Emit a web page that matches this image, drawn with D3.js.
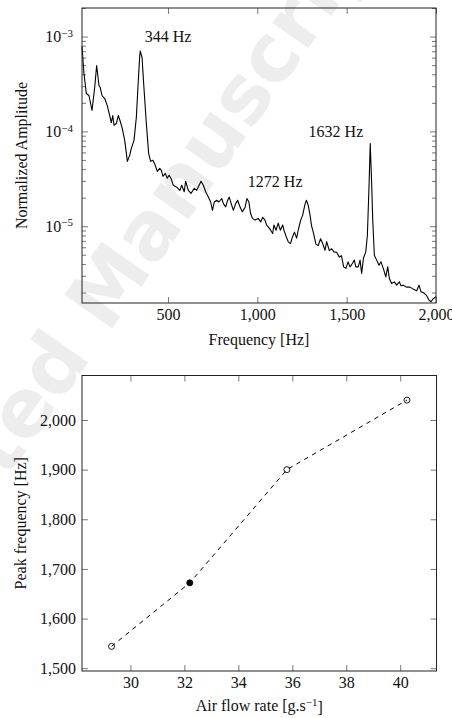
<!DOCTYPE html>
<html lang="en">
<head>
<meta charset="utf-8">
<style>
  body { margin: 0; background: white; }
  svg { display: block; background: white; }
  text { font-family: "Liberation Serif", serif; fill: #111; }
  .frame { fill: none; stroke: #222; stroke-width: 1; }
  .spec { fill: none; stroke: black; stroke-width: 1.1; stroke-linejoin: round; }
  .trend { fill: none; stroke: black; stroke-width: 1; stroke-dasharray: 4.5 4.5; }
  .watermark { font-family: "DejaVu Sans", sans-serif; font-weight: bold; fill: #ededed; }
</style>
<script src="https://d3js.org/d3.v7.min.js"></script>
</head>
<body>
<script>
var width = 452, height = 718;

// spectrum (top panel)
var freqHz = [19,30,43,58,75,90,101,114,121,131,
  146,160,174,183,191,198,211,222,231,243,
  258,273,286,295,310,323,332,342,345,355,
  364,379,392,403,416,429,440,454,463,472,
  485,496,506,517,530,549,567,577,591,599,
  614,629,647,661,670,685,698,711,726,739,
  749,759,773,785,801,810,823,834,843,857,
  866,879,890,903,916,931,942,953,962,973,
  987,1005,1019,1030,1043,1052,1061,1075,1086,1093,
  1105,1117,1129,1142,1149,1162,1174,1186,1196,1208,
  1220,1230,1243,1254,1267,1275,1285,1295,1304,1313,
  1328,1341,1354,1366,1379,1388,1403,1416,1429,1444,
  1459,1471,1483,1496,1508,1519,1532,1543,1551,1565,
  1575,1584,1594,1607,1616,1625,1632,1640,1646,1655,
  1668,1681,1692,1705,1719,1730,1739,1752,1767,1780,
  1795,1804,1817,1835,1855,1873,1892,1905,1916,1929,
  1948,1961,1972,1983,2000];
var amplitude = [7.85e-4,4.08e-4,2.51e-4,2.39e-4,1.66e-4,2.90e-4,4.95e-4,3.05e-4,2.90e-4,2.39e-4,
  2.22e-4,1.88e-4,1.47e-4,1.24e-4,1.47e-4,1.16e-4,1.21e-4,1.47e-4,1.31e-4,1.10e-4,
  8.04e-5,4.83e-5,5.58e-5,6.62e-5,8.04e-5,1.40e-4,2.90e-4,6.31e-4,7.04e-4,6.01e-4,
  3.20e-4,1.21e-4,5.86e-5,4.83e-5,4.95e-5,4.39e-5,3.79e-5,4.08e-5,3.88e-5,3.36e-5,
  3.61e-5,3.20e-5,3.44e-5,3.20e-5,2.70e-5,2.58e-5,2.39e-5,2.70e-5,2.31e-5,2.98e-5,
  2.39e-5,2.22e-5,2.51e-5,2.39e-5,2.61e-5,2.98e-5,2.70e-5,2.31e-5,2.03e-5,1.80e-5,
  1.47e-5,1.80e-5,1.88e-5,1.80e-5,1.96e-5,1.73e-5,1.60e-5,1.88e-5,2.03e-5,1.66e-5,
  1.47e-5,1.73e-5,1.88e-5,1.60e-5,1.42e-5,1.57e-5,1.96e-5,1.80e-5,1.37e-5,1.21e-5,
  1.16e-5,1.21e-5,1.11e-5,1.24e-5,1.16e-5,1.03e-5,9.84e-6,9.08e-6,8.38e-6,1.03e-5,
  9.08e-6,1.08e-5,9.08e-6,1.03e-5,9.08e-6,7.75e-6,6.79e-6,6.55e-6,7.66e-6,8.65e-6,
  7.48e-6,9.29e-6,1.16e-5,1.31e-5,1.71e-5,1.88e-5,1.66e-5,1.31e-5,1.0e-5,8.65e-6,
  6.47e-6,6.24e-6,7.38e-6,6.58e-6,5.58e-6,6.87e-6,5.52e-6,5.79e-6,5.36e-6,5.32e-6,
  4.72e-6,4.89e-6,3.73e-6,3.59e-6,4.21e-6,3.73e-6,4.05e-6,4.39e-6,3.73e-6,3.73e-6,
  4.39e-6,3.18e-6,4.60e-6,5.36e-6,8.04e-6,2.59e-5,7.43e-5,2.81e-5,1.16e-5,4.95e-6,
  4.39e-6,3.88e-6,4.21e-6,3.59e-6,2.92e-6,3.73e-6,2.81e-6,2.49e-6,2.59e-6,2.39e-6,
  2.59e-6,2.36e-6,2.39e-6,2.28e-6,2.28e-6,2.17e-6,2.09e-6,2.39e-6,2.03e-6,2.0e-6,
  1.85e-6,1.66e-6,1.60e-6,1.71e-6,1.81e-6];
var ampDomain = [1.55e-6, 2e-3];
var freqTicks = [500, 1000, 1500, 2000];
var ampMajor = [1e-5, 1e-4, 1e-3];

var peakLabels = ["344 Hz", "1272 Hz", "1632 Hz"];
var peakLabelFreq = [500, 1100, 1440];
var peakLabelAmp = [1e-3, 3e-5, 1e-4];

// peak frequency vs air flow (bottom panel)
var airFlow = [29.3, 32.2, 35.8, 40.25];
var peakFreq = [1544, 1672, 1900, 2040];
var filled = [false, true, false, false];
var airTicks = [30, 32, 34, 36, 38, 40];
var peakTicks = [1500, 1600, 1700, 1800, 1900, 2000];

var svg = d3.select("body").append("svg")
  .attr("width", width)
  .attr("height", height);

// faint watermark behind everything
svg.append("text")
  .attr("class", "watermark")
  .attr("transform", "translate(125,310) rotate(-55)")
  .attr("text-anchor", "middle")
  .attr("font-size", 80)
  .text("Accepted Manuscript");

var fmt = d3.format(",");

function styleAxis(g) {
  g.select(".domain").remove();
  g.attr("font-size", 16).attr("font-family", "Liberation Serif");
  g.selectAll(".tick line").attr("stroke", "#555").attr("stroke-width", 0.8);
}

// ---------- top panel ----------
var m1 = {left: 82, right: 436, top: 8, bottom: 303};
var x1 = d3.scaleLinear().domain(d3.extent(freqHz)).range([m1.left, m1.right]);
var y1 = d3.scaleLog().domain(ampDomain).range([m1.bottom, m1.top]);
var ampMinor = y1.ticks().filter(function(d) { return Math.abs(Math.log10(d) - Math.round(Math.log10(d))) > 1e-6; });

var gTop = svg.append("g");

gTop.append("g").attr("transform", "translate(0," + m1.bottom + ")")
  .call(d3.axisBottom(x1).tickValues(freqTicks).tickSize(-6).tickPadding(6).tickFormat(fmt))
  .call(styleAxis);
gTop.append("g").attr("transform", "translate(0," + m1.top + ")")
  .call(d3.axisTop(x1).tickValues(freqTicks).tickSize(-6).tickFormat(""))
  .call(styleAxis);

var yl = gTop.append("g").attr("transform", "translate(" + m1.left + ",0)")
  .call(d3.axisLeft(y1).tickValues(ampMajor).tickSize(-6).tickPadding(9).tickFormat(""))
  .call(styleAxis);
yl.selectAll(".tick text").each(function(d) {
  var t = d3.select(this);
  t.text("10");
  t.append("tspan").attr("dy", "-0.5em").attr("font-size", "11px")
    .text("\u2212" + Math.abs(Math.round(Math.log10(d))));
});
gTop.append("g").attr("transform", "translate(" + m1.left + ",0)")
  .call(d3.axisLeft(y1).tickValues(ampMinor).tickSize(-4).tickFormat(""))
  .call(styleAxis);
gTop.append("g").attr("transform", "translate(" + m1.right + ",0)")
  .call(d3.axisRight(y1).tickValues(ampMajor).tickSize(-6).tickFormat(""))
  .call(styleAxis);
gTop.append("g").attr("transform", "translate(" + m1.right + ",0)")
  .call(d3.axisRight(y1).tickValues(ampMinor).tickSize(-4).tickFormat(""))
  .call(styleAxis);

var line1 = d3.line()
  .x(function(d) { return x1(d[0]); })
  .y(function(d) { return y1(d[1]); });

gTop.append("path")
  .datum(d3.zip(freqHz, amplitude))
  .attr("class", "spec")
  .attr("d", line1);

gTop.append("rect").attr("class", "frame")
  .attr("x", m1.left).attr("y", m1.top)
  .attr("width", m1.right - m1.left).attr("height", m1.bottom - m1.top);

gTop.selectAll(".peak")
  .data(peakLabels)
  .enter().append("text")
  .attr("class", "peak")
  .attr("x", function(d, i) { return x1(peakLabelFreq[i]); })
  .attr("y", function(d, i) { return y1(peakLabelAmp[i]); })
  .attr("dy", "0.35em")
  .attr("text-anchor", "middle")
  .attr("font-size", 16)
  .text(function(d) { return d; });

gTop.append("text")
  .attr("x", (m1.left + m1.right) / 2).attr("y", 345)
  .attr("text-anchor", "middle").attr("font-size", 16)
  .text("Frequency [Hz]");
gTop.append("text")
  .attr("transform", "translate(27," + (m1.top + m1.bottom) / 2 + ") rotate(-90)")
  .attr("text-anchor", "middle").attr("font-size", 16)
  .text("Normalized Amplitude");

// ---------- bottom panel ----------
var m2 = {left: 82, right: 436.5, top: 375.5, bottom: 671};
function enlarge(ext) { var r = ext[1] - ext[0]; return [ext[0] - 0.1 * r, ext[1] + 0.1 * r]; }
var x2 = d3.scaleLinear().domain(enlarge(d3.extent(airFlow))).range([m2.left, m2.right]);
var y2 = d3.scaleLinear().domain(enlarge(d3.extent(peakFreq))).range([m2.bottom, m2.top]);

var gBot = svg.append("g");

gBot.append("g").attr("transform", "translate(0," + m2.bottom + ")")
  .call(d3.axisBottom(x2).tickValues(airTicks).tickSize(-6).tickPadding(6))
  .call(styleAxis);
gBot.append("g").attr("transform", "translate(0," + m2.top + ")")
  .call(d3.axisTop(x2).tickValues(airTicks).tickSize(-6).tickFormat(""))
  .call(styleAxis);
gBot.append("g").attr("transform", "translate(" + m2.left + ",0)")
  .call(d3.axisLeft(y2).tickValues(peakTicks).tickSize(-6).tickPadding(6).tickFormat(fmt))
  .call(styleAxis);
gBot.append("g").attr("transform", "translate(" + m2.right + ",0)")
  .call(d3.axisRight(y2).tickValues(peakTicks).tickSize(-6).tickFormat(""))
  .call(styleAxis);

var pts = d3.zip(airFlow, peakFreq, filled);
var line2 = d3.line()
  .x(function(d) { return x2(d[0]); })
  .y(function(d) { return y2(d[1]); });

gBot.append("path").datum(pts).attr("class", "trend").attr("d", line2);

gBot.selectAll(".pt")
  .data(pts)
  .enter().append("circle")
  .attr("class", "pt")
  .attr("cx", function(d) { return x2(d[0]); })
  .attr("cy", function(d) { return y2(d[1]); })
  .attr("r", 3)
  .attr("fill", function(d) { return d[2] ? "black" : "none"; })
  .attr("stroke", "black")
  .attr("stroke-width", 0.9);

gBot.append("rect").attr("class", "frame")
  .attr("x", m2.left).attr("y", m2.top)
  .attr("width", m2.right - m2.left).attr("height", m2.bottom - m2.top);

var xl = gBot.append("text")
  .attr("x", (m2.left + m2.right) / 2).attr("y", 711)
  .attr("text-anchor", "middle").attr("font-size", 16)
  .text("Air flow rate [g.s");
xl.append("tspan").attr("dy", "-0.45em").attr("font-size", "11px").text("\u22121");
xl.append("tspan").attr("dy", "0.45em").text("]");

gBot.append("text")
  .attr("transform", "translate(25.5," + (m2.top + m2.bottom) / 2 + ") rotate(-90)")
  .attr("text-anchor", "middle").attr("font-size", 16)
  .text("Peak frequency [Hz]");
</script>
</body>
</html>
